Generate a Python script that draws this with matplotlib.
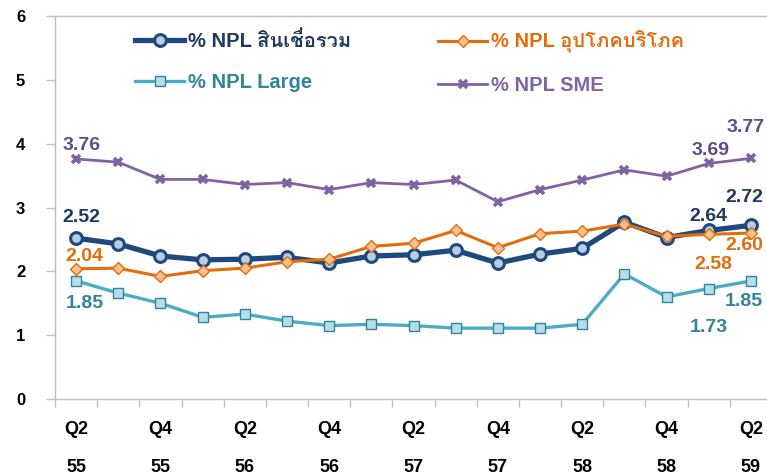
"""
NPL ratio by loan type, Q2/55 - Q2/59
"""
import matplotlib
matplotlib.use('Agg')
import matplotlib.pyplot as plt
from matplotlib import font_manager, ft2font

QUARTERS = ['Q2', 'Q3', 'Q4', 'Q1', 'Q2', 'Q3', 'Q4', 'Q1', 'Q2',
            'Q3', 'Q4', 'Q1', 'Q2', 'Q3', 'Q4', 'Q1', 'Q2']
YEARS = ['55', '55', '55', '56', '56', '56', '56', '57', '57',
         '57', '57', '58', '58', '58', '58', '59', '59']

npl_total = [2.52, 2.43, 2.24, 2.18, 2.19, 2.22, 2.13, 2.24, 2.26,
             2.33, 2.13, 2.27, 2.36, 2.77, 2.53, 2.64, 2.72]
npl_consumer = [2.04, 2.05, 1.92, 2.01, 2.05, 2.15, 2.19, 2.39, 2.44,
                2.64, 2.37, 2.59, 2.63, 2.74, 2.55, 2.58, 2.60]
npl_large = [1.85, 1.66, 1.50, 1.28, 1.33, 1.22, 1.15, 1.17, 1.15,
             1.11, 1.11, 1.11, 1.17, 1.96, 1.60, 1.73, 1.85]
npl_sme = [3.76, 3.71, 3.44, 3.44, 3.36, 3.39, 3.28, 3.39, 3.36,
           3.43, 3.09, 3.28, 3.43, 3.59, 3.49, 3.69, 3.77]

LABELS = ['% NPL สินเชื่อรวม', '% NPL อุปโภคบริโภค', '% NPL Large', '% NPL SME']


def find_thai_family():
    """Pick an installed font with Thai glyphs, bold face preferred."""
    found = []
    for f in font_manager.fontManager.ttflist:
        try:
            cmap = ft2font.FT2Font(f.fname).get_charmap()
        except Exception:
            continue
        if 0x0E2A in cmap and 0x0E40 in cmap:
            found.append(f)
    if not found:
        return None
    found.sort(key=lambda f: 0 if f.weight in ('bold', 700) else 1)
    return found[0].name


thai = find_thai_family()
families = ['Liberation Sans'] + ([thai] if thai else []) + ['DejaVu Sans']
plt.rcParams['font.family'] = families

fig = plt.figure(figsize=(7.67, 4.75), dpi=100)
ax = fig.add_axes([55 / 767, 1 - 399 / 475, 717 / 767, 383 / 475])

x = list(range(len(QUARTERS)))

ln_total, = ax.plot(x, npl_total, color='#1F497D', lw=3.8, marker='o', ms=8.5,
                    mfc='#B9CDE5', mec='#1F497D', mew=2.2, zorder=3)
ln_cons, = ax.plot(x, npl_consumer, color='#E46C0A', lw=2.2, marker='D', ms=6.5,
                   mfc='#FAC090', mec='#E46C0A', mew=1.0, zorder=4)
ln_large, = ax.plot(x, npl_large, color='#4BACC6', lw=2.4, marker='s', ms=7.5,
                    mfc='#B7DEE8', mec='#31859C', mew=1.0, zorder=5)
ln_sme, = ax.plot(x, npl_sme, color='#8064A2', lw=2.0, marker='x', ms=6,
                  mec='#8064A2', mew=2.6, zorder=6)

ax.set_xlim(-0.5, len(x) - 0.5)
ax.set_ylim(0, 6)

# data labels (offsets in points from the point)
label_specs = [
    (npl_sme, 0, (4, 10), '#5F4B8B'),
    (npl_sme, 15, (1, 9), '#5F4B8B'),
    (npl_sme, 16, (-4, 22), '#5F4B8B'),
    (npl_total, 0, (4, 15), '#1F3864'),
    (npl_total, 15, (0, 10), '#1F3864'),
    (npl_total, 16, (-5, 20), '#1F3864'),
    (npl_consumer, 0, (6, 9), '#E46C0A'),
    (npl_consumer, 15, (3, -22), '#E46C0A'),
    (npl_consumer, 16, (-5, -9), '#E46C0A'),
    (npl_large, 0, (6, -16), '#31849B'),
    (npl_large, 15, (0, -28), '#31849B'),
    (npl_large, 16, (-5, -15), '#31849B'),
]
for series, i, off, col in label_specs:
    ax.annotate(f'{series[i]:.2f}', (x[i], series[i]), xytext=off,
                textcoords='offset points', ha='center', va='center',
                fontsize=14, fontweight='bold', color=col, zorder=7)

# axes styling
ax.spines['right'].set_visible(False)
for side in ['left', 'bottom', 'top']:
    ax.spines[side].set_color('#BFBFBF')
    ax.spines[side].set_linewidth(1.0)

ax.set_yticks(range(0, 7))
ax.tick_params(axis='y', direction='out', length=6.5, width=1.0, color='#BFBFBF',
               pad=15, labelsize=12)
for t in ax.get_yticklabels():
    t.set_fontweight('bold')

ax.set_xticks(x[::2])
ax.set_xticklabels([f'{q}\n{y}' for q, y in zip(QUARTERS[::2], YEARS[::2])],
                   fontsize=13, fontweight='bold', linespacing=2.6)
ax.set_xticks([i - 0.5 for i in range(len(x) + 1)], minor=True)
ax.tick_params(axis='x', which='major', length=0, pad=16)
ax.tick_params(axis='x', which='minor', direction='out', length=6, width=1.0,
               color='#BFBFBF')

# legend: two stacked columns placed separately
leg_kw = dict(frameon=False, handlelength=2.45, handletextpad=0.2,
              labelspacing=1.1, borderpad=0, borderaxespad=0, loc='upper left',
              prop={'weight': 'bold', 'size': 14.5})
leg1 = fig.legend([ln_total, ln_large], [LABELS[0], LABELS[2]],
                  bbox_to_anchor=(135 / 767, 1 - 31 / 475), **leg_kw)
for txt, col in zip(leg1.get_texts(), ['#1F3864', '#31849B']):
    txt.set_color(col)
leg2 = fig.legend([ln_cons, ln_sme], [LABELS[1], LABELS[3]],
                  bbox_to_anchor=(438 / 767, 1 - 31 / 475), **leg_kw)
for txt, col in zip(leg2.get_texts(), ['#E46C0A', '#8064A2']):
    txt.set_color(col)

fig.savefig('out.png', dpi=100, facecolor='white')
